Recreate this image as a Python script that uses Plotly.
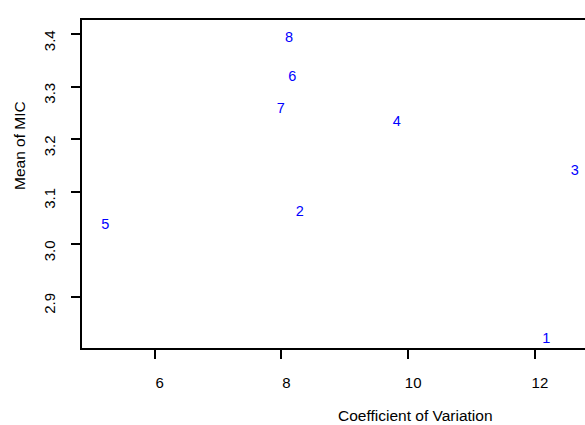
import plotly.graph_objects as go

labels = ["1", "2", "3", "4", "5", "6", "7", "8"]
cv = [12.18, 8.29, 12.63, 9.82, 5.22, 8.17, 7.99, 8.12]
mic = [2.819, 3.060, 3.139, 3.231, 3.035, 3.317, 3.257, 3.392]

x_ticks = [6, 8, 10, 12]
y_ticks = [2.9, 3.0, 3.1, 3.2, 3.3, 3.4]

FONT = "Liberation Sans, Arial, sans-serif"

fig = go.Figure()
fig.add_trace(go.Scatter(
    x=cv, y=mic, mode="text", text=labels,
    textposition="middle center",
    textfont=dict(family=FONT, size=14.5, color="#0000FF"),
    hoverinfo="skip", showlegend=False,
))

fig.update_layout(
    width=585, height=425,
    margin=dict(l=82, r=0, t=20, b=77),
    paper_bgcolor="white", plot_bgcolor="white",
    font=dict(family=FONT, size=15, color="black"),
    xaxis=dict(
        range=[4.853, 12.79], tickvals=x_ticks, ticktext=[str(v) for v in x_ticks],
        showgrid=False, zeroline=False, showline=True, linecolor="black", linewidth=1.5,
        mirror=True, ticks="outside", ticklen=9, tickwidth=1.5, tickcolor="black",
        ticklabelstandoff=11, ticklabelshift=5,
        tickfont=dict(family=FONT, size=15, color="black"),
    ),
    yaxis=dict(
        range=[2.802, 3.4267], tickvals=y_ticks, ticktext=[f"{v:.1f}" for v in y_ticks],
        showgrid=False, zeroline=False, showline=True, linecolor="black", linewidth=1.5,
        mirror=False, ticks="outside", ticklen=9, tickwidth=1.5, tickcolor="black",
        tickangle=-90, ticklabelstandoff=10, ticklabelshift=9,
        tickfont=dict(family=FONT, size=15, color="black"),
    ),
    annotations=[
        dict(text="Coefficient of Variation", xref="paper", yref="paper",
             x=(415 - 82) / 503, y=(348 - 415) / 328, showarrow=False,
             xanchor="center", yanchor="middle",
             font=dict(family=FONT, size=15.5, color="black")),
        dict(text="Mean of MIC", xref="paper", yref="paper",
             x=(19 - 82) / 503, y=(348 - 146) / 328, showarrow=False,
             xanchor="center", yanchor="middle", textangle=-90,
             font=dict(family=FONT, size=15.5, color="black")),
    ],
)

fig.write_html("out.html")
